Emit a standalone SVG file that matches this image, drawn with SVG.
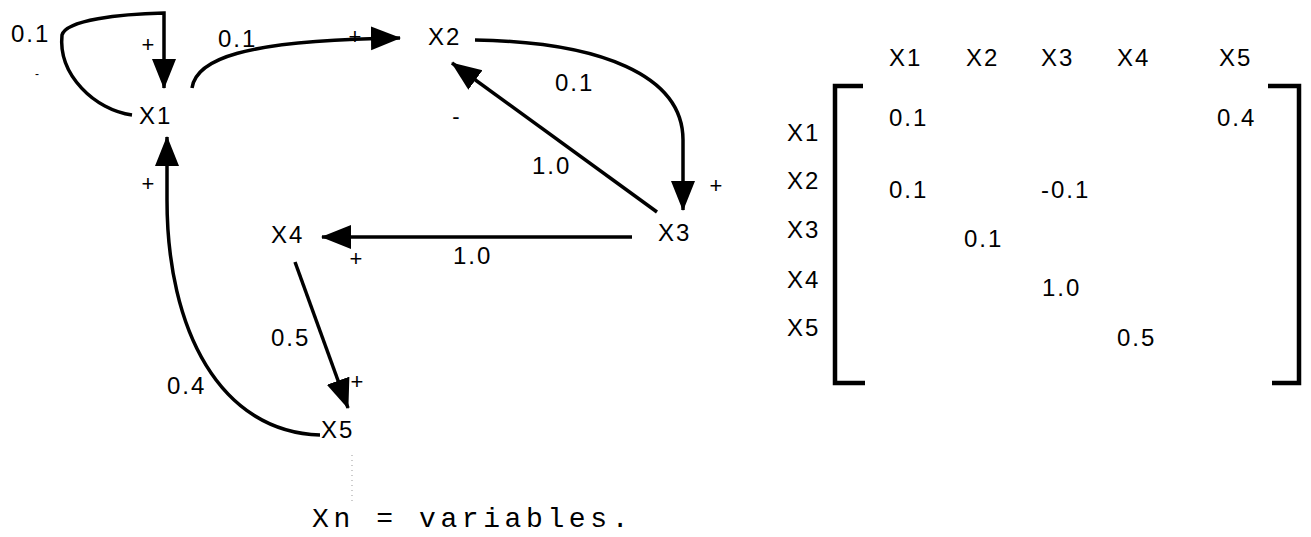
<svg xmlns="http://www.w3.org/2000/svg" width="1311" height="537" viewBox="0 0 1311 537">
<style>
.lbl{font-family:"Liberation Sans",Arial,sans-serif;font-size:24px;fill:#000;letter-spacing:2px}
.sgn{font-family:"Liberation Sans",Arial,sans-serif;font-size:22px;fill:#000;text-anchor:middle}
.edge{fill:none;stroke:#000;stroke-width:3.5}
.brk{fill:none;stroke:#000;stroke-width:4.5}
.foot{font-family:"Liberation Mono","Courier New",monospace;font-size:28px;fill:#000;letter-spacing:4.6px}
</style>
<defs>
<marker id="ah" markerUnits="userSpaceOnUse" markerWidth="32" markerHeight="26" refX="29" refY="12" orient="auto">
<path d="M0,0 L30,12 L0,24 z" fill="#000"/>
</marker>
</defs>
<rect width="1311" height="537" fill="#fff"/>
<g id="connectors">
<path class="edge" d="M132,115 C95,110 58,75 62,35 C66,20 120,14 164,13 L164,88" marker-end="url(#ah)"/>
<path class="edge" d="M192,88 C196,60 240,40 400,38" marker-end="url(#ah)"/>
<path class="edge" d="M475,40 C600,42 683,75 683,140 L683,210" marker-end="url(#ah)"/>
<path class="edge" d="M657,212 L452,63" marker-end="url(#ah)"/>
<path class="edge" d="M632,237 L322,237" marker-end="url(#ah)"/>
<path class="edge" d="M295,262 L348,408" marker-end="url(#ah)"/>
<path class="edge" d="M320,435 C220,432 167,330 167,200 L167,137" marker-end="url(#ah)"/>
<text class="lbl" x="11" y="42">0.1</text>
<text class="sgn" x="148" y="52">+</text>
<text class="lbl" x="218" y="47">0.1</text>
<text class="sgn" x="355" y="44">+</text>
<text class="lbl" x="555" y="91">0.1</text>
<text class="sgn" x="716" y="193">+</text>
<text class="lbl" x="532" y="174">1.0</text>
<text class="sgn" x="456" y="124">-</text>
<text class="lbl" x="453" y="264">1.0</text>
<text class="sgn" x="356" y="266">+</text>
<text class="lbl" x="271" y="346">0.5</text>
<text class="sgn" x="357" y="389">+</text>
<text class="lbl" x="167" y="394">0.4</text>
<text class="sgn" x="148" y="191">+</text>
<text class="sgn" x="37" y="78" style="font-size:12px">-</text>
</g>
<g id="X1"><text class="lbl" x="139" y="124">X1</text></g>
<g id="X2"><text class="lbl" x="428" y="45">X2</text></g>
<g id="X3"><text class="lbl" x="658" y="241">X3</text></g>
<g id="X4"><text class="lbl" x="271" y="243">X4</text></g>
<g id="X5"><text class="lbl" x="321" y="438">X5</text></g>
<g id="matrix">
<text class="lbl" x="889" y="66">X1</text>
<text class="lbl" x="966" y="66">X2</text>
<text class="lbl" x="1041" y="66">X3</text>
<text class="lbl" x="1117" y="66">X4</text>
<text class="lbl" x="1219" y="66">X5</text>
<text class="lbl" x="787" y="141">X1</text>
<text class="lbl" x="787" y="189">X2</text>
<text class="lbl" x="787" y="238">X3</text>
<text class="lbl" x="787" y="288">X4</text>
<text class="lbl" x="787" y="336">X5</text>
<text class="lbl" x="889" y="126">0.1</text>
<text class="lbl" x="1217" y="126">0.4</text>
<text class="lbl" x="889" y="198">0.1</text>
<text class="lbl" x="1041" y="198">-0.1</text>
<text class="lbl" x="964" y="247">0.1</text>
<text class="lbl" x="1042" y="296">1.0</text>
<text class="lbl" x="1117" y="346">0.5</text>
<path class="brk" d="M863,86 L835,86 L835,383 L865,383"/>
<path class="brk" d="M1268,86 L1299,86 L1299,383 L1272,383"/>
</g>
<line x1="352" y1="455" x2="352" y2="505" stroke="#999" stroke-width="1" stroke-dasharray="1,4"/>
<text class="foot" x="312" y="527">Xn = variables.</text>
</svg>
